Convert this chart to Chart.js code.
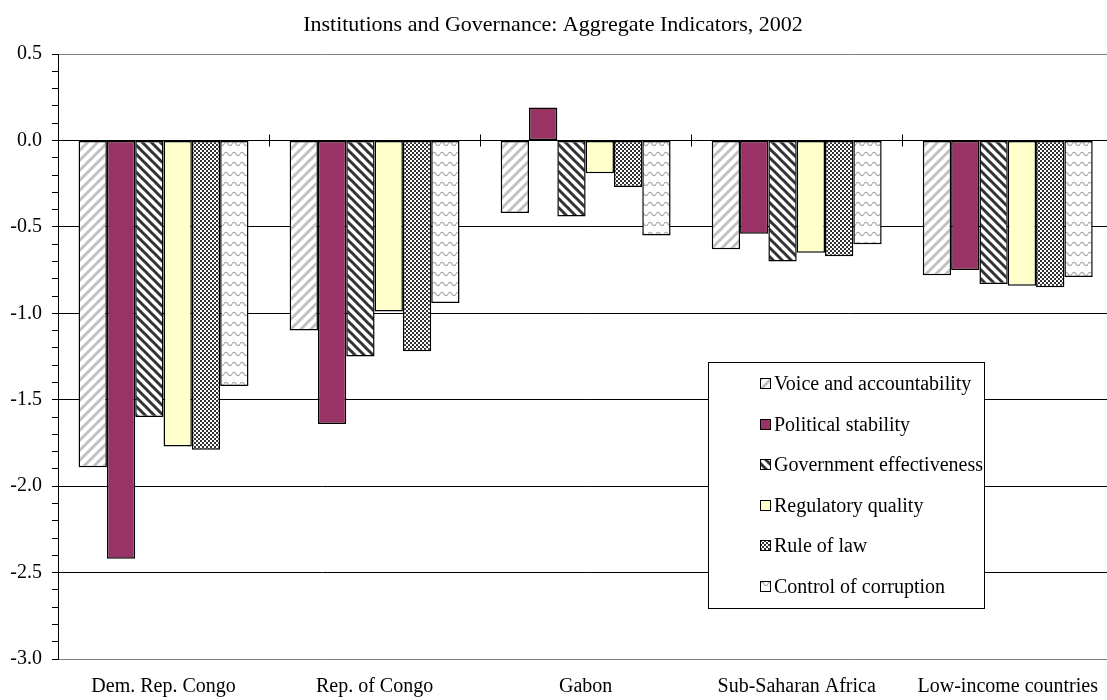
<!DOCTYPE html>
<html>
<head>
<meta charset="utf-8">
<script src="https://cdn.jsdelivr.net/npm/chart.js@4/dist/chart.umd.min.js"></script>
<style>
html,body{margin:0;padding:0;background:#fff;overflow:hidden;}
</style>
</head>
<body>
<canvas id="c" width="1114" height="700" style="display:block;width:1114px;height:700px;"></canvas>
<script>
// ---- data ----
const categories = ["Dem. Rep. Congo", "Rep. of Congo", "Gabon", "Sub-Saharan Africa", "Low-income countries"];
const seriesNames = ["Voice and accountability", "Political stability", "Government effectiveness", "Regulatory quality", "Rule of law", "Control of corruption"];
const voice      = [-1.89, -1.10, -0.42, -0.63, -0.78];
const political  = [-2.42, -1.64,  0.19, -0.54, -0.75];
const government = [-1.60, -1.25, -0.44, -0.70, -0.83];
const regulatory = [-1.77, -0.99, -0.19, -0.65, -0.84];
const ruleOfLaw  = [-1.79, -1.22, -0.27, -0.67, -0.85];
const corruption = [-1.42, -0.94, -0.55, -0.60, -0.79];
const yTickLabels = ["0.5", "0.0", "-0.5", "-1.0", "-1.5", "-2.0", "-2.5", "-3.0"];
const titleText = "Institutions and Governance: Aggregate Indicators, 2002";

// ---- patterns ----
function makeTile(w, h, draw) {
  const c = document.createElement('canvas');
  c.width = w; c.height = h;
  const g = c.getContext('2d');
  g.fillStyle = '#fff'; g.fillRect(0, 0, w, h);
  draw(g, w, h);
  return document.getElementById('c').getContext('2d').createPattern(c, 'repeat');
}
function diag(g, w, h, up, color, lw) {
  g.strokeStyle = color; g.lineWidth = lw; g.lineCap = 'square';
  for (const x0 of [-w, 0, w]) {
    g.beginPath();
    if (up) { g.moveTo(x0, h); g.lineTo(x0 + w, 0); }
    else { g.moveTo(x0, 0); g.lineTo(x0 + w, h); }
    g.stroke();
  }
}
const patVoice = makeTile(10, 10, (g, w, h) => diag(g, w, h, true, '#c0c0c0', 3));
const patGov = makeTile(9, 9, (g, w, h) => diag(g, w, h, false, '#333333', 3));
const patRule = makeTile(4, 4, (g) => {
  g.fillStyle = '#333'; g.fillRect(0, 0, 2, 2); g.fillRect(2, 2, 2, 2);
});
const patCorr = makeTile(8, 10, (g) => {
  g.strokeStyle = '#aaaaaa'; g.lineWidth = 1.3;
  g.beginPath(); g.moveTo(-2, 6); g.quadraticCurveTo(2, 0, 4, 4); g.quadraticCurveTo(6, 8, 10, 2); g.stroke();
});
const fills = [patVoice, '#993366', patGov, '#FFFFCC', patRule, patCorr];
const seriesValues = [voice, political, government, regulatory, ruleOfLaw, corruption];

const FONT = "'Liberation Serif', 'Times New Roman', serif";

const titlePlugin = {
  id: 'titleText',
  afterDraw(chart) {
    const ctx = chart.ctx;
    ctx.save();
    ctx.fillStyle = '#000';
    ctx.font = "22px " + FONT;
    ctx.textAlign = 'center';
    ctx.textBaseline = 'alphabetic';
    ctx.fillText(titleText, 553, 31);
    ctx.restore();
  }
};

const catTicks = {
  id: 'catTicks',
  afterDatasetsDraw(chart) {
    const x = chart.scales.x, y = chart.scales.y, ctx = chart.ctx;
    const y0 = Math.round(y.getPixelForValue(0)) + 0.5;
    ctx.save();
    ctx.strokeStyle = '#000'; ctx.lineWidth = 1;
    ctx.beginPath();
    ctx.moveTo(chart.chartArea.left, y0); ctx.lineTo(chart.chartArea.right, y0);
    for (let i = 1; i < categories.length; i++) {
      const bx = Math.round((x.getPixelForValue(i - 1) + x.getPixelForValue(i)) / 2) + 0.5;
      ctx.moveTo(bx, y0 - 6); ctx.lineTo(bx, y0 + 6);
    }
    ctx.stroke();
    ctx.restore();
  }
};

const legendBox = {
  id: 'legendBox',
  afterDraw(chart) {
    const ctx = chart.ctx;
    const bx = 708.5, by = 362.5, bw = 276, bh = 246;
    ctx.save();
    ctx.fillStyle = '#fff';
    ctx.fillRect(bx, by, bw, bh);
    ctx.strokeStyle = '#000'; ctx.lineWidth = 1;
    ctx.strokeRect(bx, by, bw, bh);
    ctx.font = "20px " + FONT;
    ctx.textBaseline = 'alphabetic';
    ctx.textAlign = 'left';
    chart.data.datasets.forEach((ds, i) => {
      const base = Math.round(390 + i * 40.6);
      ctx.fillStyle = ds.backgroundColor;
      ctx.fillRect(760, base - 12, 11, 11);
      ctx.strokeStyle = '#000';
      ctx.strokeRect(760.5, base - 11.5, 10, 10);
      ctx.fillStyle = '#000';
      ctx.fillText(ds.label, 774, base);
    });
    ctx.restore();
  }
};

function isMajor(v) { return Math.abs(v * 2 - Math.round(v * 2)) < 1e-6; }

const canvas = document.getElementById('c');
new Chart(canvas, {
  type: 'bar',
  data: {
    labels: categories,
    datasets: seriesNames.map((name, i) => ({
      label: name,
      data: seriesValues[i],
      backgroundColor: fills[i],
      borderColor: '#000',
      borderWidth: 1.5,
      borderSkipped: false
    }))
  },
  options: {
    responsive: false,
    animation: false,
    devicePixelRatio: 1,
    categoryPercentage: 0.805,
    barPercentage: 1.0,
    layout: { padding: { top: 54, right: 0, bottom: 0, left: 0 } },
    plugins: { legend: { display: false }, title: { display: false }, tooltip: { enabled: false } },
    scales: {
      x: {
        grid: { display: false, drawTicks: false },
        border: { display: false },
        ticks: { color: '#000', font: { family: FONT, size: 20 }, padding: 16, maxRotation: 0, autoSkip: false },
        afterFit(s) { s.height = 41; }
      },
      y: {
        min: -3.0,
        max: 0.5,
        ticks: {
          stepSize: 0.1,
          autoSkip: false,
          color: '#000',
          font: { family: FONT, size: 20 },
          padding: 10,
          callback(v) {
            if (!isMajor(v)) return '';
            const idx = Math.round((0.5 - v) * 2);
            return yTickLabels[idx];
          }
        },
        grid: {
          color(ctx) {
            const v = ctx.tick ? ctx.tick.value : 0;
            if (!isMajor(v)) return 'rgba(0,0,0,0)';
            if (Math.abs(v - 0.5) < 1e-6 || Math.abs(v + 3) < 1e-6) return '#808080';
            return '#000';
          },
          tickColor: '#000',
          tickLength: 6,
          lineWidth: 1
        },
        border: { display: true, color: '#000', width: 1 },
        afterFit(s) { s.width = 58; }
      }
    }
  },
  plugins: [titlePlugin, catTicks, legendBox]
});
</script>
</body>
</html>
